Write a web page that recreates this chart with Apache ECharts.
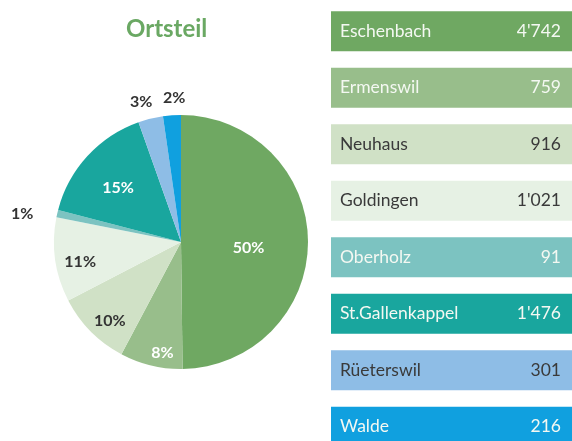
<!DOCTYPE html>
<html>
<head>
<meta charset="utf-8">
<script src="https://cdn.jsdelivr.net/npm/echarts@6/dist/echarts.min.js"></script>
<style>
  html, body { margin: 0; padding: 0; background: #fff; }
  #chart { width: 572px; height: 441px; }
</style>
</head>
<body>
<div id="chart"></div>
<script>
  // Ortsteile und Einwohner
  const ortsteile = ['Eschenbach', 'Ermenswil', 'Neuhaus', 'Goldingen', 'Oberholz', 'St.Gallenkappel', 'Rüeterswil', 'Walde']
  const einwohner = [4742, 759, 916, 1021, 91, 1476, 301, 216]

  const farben = ['#6fa862', '#98be8b', '#d0e1c6', '#e6f1e4', '#7cc3c1', '#19a69e', '#8ebde6', '#10a0df']
  const textFarben = ['#f4f8f2', '#f4f8f2', '#3a3a3a', '#3a3a3a', '#f4f8f2', '#f4f8f2', '#3a3a3a', '#f4f8f2']
  const pieTextFarben = ['#fff', '#fff', '#333', '#333', '#333', '#fff', '#333', '#333']
  // Verschiebung der Prozent-Labels
  const labelShift = [[1, 6], [-3, 46], [-24, 32], [-35, 10], [-94, -13], [-14, -9], [-24, -76], [-2, -78]]

  const fmt = v => String(v).replace(/\B(?=(\d{3})+(?!\d))/g, "'")

  const chart = echarts.init(document.getElementById('chart'))
  chart.setOption({
    animation: false,
    title: {
      text: 'Ortsteil',
      left: 121,
      top: 12,
      textStyle: { color: '#6aa863', fontFamily: 'Lato', fontWeight: 'bold', fontSize: 24 }
    },
    grid: { left: 331, right: 0, top: 3, height: 452, outerBoundsMode: 'none' },
    xAxis: { type: 'value', min: 0, max: 1, show: false },
    yAxis: { type: 'category', data: ortsteile, inverse: true, show: false },
    series: [
      {
        type: 'pie',
        center: [181, 242],
        radius: 127,
        startAngle: 90,
        clockwise: true,
        percentPrecision: 0,
        label: {
          position: 'inside',
          formatter: '{d}%',
          fontFamily: 'Lato',
          fontWeight: 'bold',
          fontSize: 16
        },
        labelLine: { show: false },
        labelLayout: p => ({ dx: labelShift[p.dataIndex][0], dy: labelShift[p.dataIndex][1] }),
        data: ortsteile.map((n, i) => ({
          name: n,
          value: einwohner[i],
          itemStyle: { color: farben[i] },
          label: { color: pieTextFarben[i] }
        }))
      },
      {
        type: 'bar',
        barWidth: 40,
        data: ortsteile.map((n, i) => ({
          value: 1,
          itemStyle: { color: farben[i] },
          label: { color: textFarben[i] }
        })),
        label: {
          show: true,
          position: 'insideLeft',
          distance: 9,
          fontFamily: 'Lato',
          fontSize: 17,
          formatter: p => `{n|${ortsteile[p.dataIndex]}}{v|${fmt(einwohner[p.dataIndex])}}`,
          rich: {
            n: { width: 150, fontFamily: 'Lato', fontSize: 17.5 },
            v: { width: 71, align: 'right', fontFamily: 'Lato', fontSize: 17.5 }
          }
        }
      }
    ]
  })
</script>
</body>
</html>
